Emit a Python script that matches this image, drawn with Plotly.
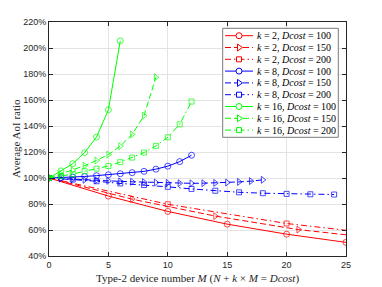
import plotly.graph_objects as go

# ---------------- data ----------------
x_k2_d100 = [0, 5, 10, 15, 20, 25]
y_k2_d100 = [100, 86.1, 74.3, 64.5, 56.8, 50.5]
mk_k2_d100 = [0, 5, 10, 15, 20, 25]

x_k2_d150 = [0, 7, 14, 21, 25]
y_k2_d150 = [100, 83.7, 70.7, 60.3, 56.3]
mk_k2_d150 = [0, 7, 14, 21]

x_k2_d200 = [0, 10, 20, 25]
y_k2_d200 = [100, 79.8, 65.0, 59.8]
mk_k2_d200 = [0, 10, 20]

x_k8_d100 = list(range(0, 13))
y_k8_d100 = [100, 100.3, 100.7, 101.2, 101.8, 102.5, 103.3, 104.1, 105.1, 106.8, 109.1, 112.6, 117.5]
mk_k8_d100 = x_k8_d100

x_k8_d150 = list(range(0, 19))
y_k8_d150 = [100, 99.5, 99.0, 98.6, 98.2, 97.8, 97.4, 97.1, 96.8, 96.5, 96.2, 96.0, 95.9,
             96.0, 96.2, 96.5, 97.0, 97.6, 98.6]
mk_k8_d150 = x_k8_d150

x_k8_d200 = [0, 2, 4, 6, 8, 10, 12, 14, 16, 18, 20, 22, 24]
y_k8_d200 = [100, 98.8, 97.5, 95.8, 94.6, 93.2, 91.6, 90.2, 89.0, 88.3, 87.8, 87.5, 87.3]
mk_k8_d200 = x_k8_d200

x_k16_d100 = [0, 1, 2, 3, 4, 5, 6]
y_k16_d100 = [100, 105.5, 111.0, 119.5, 131.5, 152.5, 205.5]
mk_k16_d100 = x_k16_d100

x_k16_d150 = [0, 1, 2, 3, 4, 5, 6, 7, 8, 9]
y_k16_d150 = [100, 103.0, 106.0, 109.5, 113.5, 118.0, 124.5, 133.5, 148.0, 177.5]
mk_k16_d150 = x_k16_d150

x_k16_d200 = [0, 1, 2, 3, 4, 5, 6, 7, 8, 9, 10, 11, 12]
y_k16_d200 = [100, 101.5, 103.0, 105.2, 107.2, 109.2, 112.2, 115.7, 119.6, 124.7, 131.3, 141.3, 158.8]
mk_k16_d200 = x_k16_d200

series_labels = [
    "<i>k</i> = 2, <i>Dcost</i> = 100",
    "<i>k</i> = 2, <i>Dcost</i> = 150",
    "<i>k</i> = 2, <i>Dcost</i> = 200",
    "<i>k</i> = 8, <i>Dcost</i> = 100",
    "<i>k</i> = 8, <i>Dcost</i> = 150",
    "<i>k</i> = 8, <i>Dcost</i> = 200",
    "<i>k</i> = 16, <i>Dcost</i> = 100",
    "<i>k</i> = 16, <i>Dcost</i> = 150",
    "<i>k</i> = 16, <i>Dcost</i> = 200",
]

x_tickvals = [0, 5, 10, 15, 20, 25]
y_tickvals = [40, 60, 80, 100, 120, 140, 160, 180, 200, 220]
y_ticktext = ["40%", "60%", "80%", "100%", "120%", "140%", "160%", "180%", "200%", "220%"]

x_title = "Type-2 device number <i>M</i> (<i>N</i> + <i>k</i> × <i>M</i> = <i>Dcost</i>)"
y_title = "Average AoI ratio"

# ---------------- styles ----------------
W, H = 382, 287
L, R, T, B = 49, 36, 22, 31
PW, PH = W - L - R, H - T - B

RED, BLUE, GREEN = "#ff0000", "#0000ff", "#00ff00"
DASH = "6px,3px"
DASHDOT = "6px,3px,1.5px,3px"
SANS = "Liberation Sans, Arial, sans-serif"
SERIF = "Liberation Serif, Times New Roman, serif"
AXC = "#262626"

series = [
    (x_k2_d100, y_k2_d100, mk_k2_d100, RED, "solid", "circle"),
    (x_k2_d150, y_k2_d150, mk_k2_d150, RED, DASH, "triangle-right"),
    (x_k2_d200, y_k2_d200, mk_k2_d200, RED, DASHDOT, "square"),
    (x_k8_d100, y_k8_d100, mk_k8_d100, BLUE, "solid", "circle"),
    (x_k8_d150, y_k8_d150, mk_k8_d150, BLUE, DASH, "triangle-right"),
    (x_k8_d200, y_k8_d200, mk_k8_d200, BLUE, DASHDOT, "square"),
    (x_k16_d100, y_k16_d100, mk_k16_d100, GREEN, "solid", "circle"),
    (x_k16_d150, y_k16_d150, mk_k16_d150, GREEN, DASH, "triangle-right"),
    (x_k16_d200, y_k16_d200, mk_k16_d200, GREEN, DASHDOT, "square"),
]
SYM_SIZE = {"circle": 6, "triangle-right": 6, "square": 5}

fig = go.Figure()
for (xs, ys, mk, col, dash, sym), lab in zip(series, series_labels):
    sizes = [SYM_SIZE[sym] if xv in mk else 0 for xv in xs]
    fig.add_trace(go.Scatter(
        x=xs, y=ys, mode="lines+markers", name=lab, showlegend=False,
        line=dict(color=col, width=1, dash=dash),
        marker=dict(symbol=sym + "-open", size=sizes, color=col, line=dict(width=1, color=col)),
        hoverinfo="skip",
    ))


def px2x(px):
    return (px - L) / PW


def py2y(py):
    return 1 - (py - T) / PH


shapes = []
annotations = []
# legend box
shapes.append(dict(type="rect", xref="paper", yref="paper", layer="above",
                   x0=px2x(222.7), x1=px2x(338.3), y0=py2y(137.3), y1=py2y(28.3),
                   fillcolor="white", line=dict(color="#7a7a7a", width=1)))
for i, ((xs, ys, mk, col, dash, sym), lab) in enumerate(zip(series, series_labels)):
    yy = py2y(35.7 + 11.8 * i)
    shapes.append(dict(type="line", xref="paper", yref="paper", layer="above",
                       x0=px2x(225), x1=px2x(253), y0=yy, y1=yy,
                       line=dict(color=col, width=1, dash=dash)))
    cx = px2x(239)
    if sym == "circle":
        shapes.append(dict(type="circle", xref="paper", yref="paper", layer="above",
                           xsizemode="pixel", ysizemode="pixel", xanchor=cx, yanchor=yy,
                           x0=-3, x1=3, y0=-3, y1=3, fillcolor="white",
                           line=dict(color=col, width=1)))
    elif sym == "square":
        shapes.append(dict(type="rect", xref="paper", yref="paper", layer="above",
                           xsizemode="pixel", ysizemode="pixel", xanchor=cx, yanchor=yy,
                           x0=-2.5, x1=2.5, y0=-2.5, y1=2.5, fillcolor="white",
                           line=dict(color=col, width=1)))
    else:
        shapes.append(dict(type="path", xref="paper", yref="paper", layer="above",
                           xsizemode="pixel", ysizemode="pixel", xanchor=cx, yanchor=yy,
                           path="M-1.5,-3.5 L3.5,0 L-1.5,3.5 Z", fillcolor="white",
                           line=dict(color=col, width=1)))
    annotations.append(dict(xref="paper", yref="paper", x=px2x(255), y=yy,
                            xanchor="left", yanchor="middle", showarrow=False, text=lab,
                            font=dict(family=SERIF, size=10, color="black")))

annotations.append(dict(xref="paper", yref="paper", x=0.5, y=py2y(278.5),
                        xanchor="center", yanchor="middle", showarrow=False, text=x_title,
                        font=dict(family=SERIF, size=11, color=AXC)))
annotations.append(dict(xref="paper", yref="paper", x=px2x(16), y=py2y(139),
                        xanchor="center", yanchor="middle", showarrow=False, text=y_title,
                        textangle=-90, font=dict(family=SERIF, size=11, color=AXC)))

axis_common = dict(showline=True, linecolor=AXC, linewidth=1, mirror="ticks",
                   ticks="inside", ticklen=4, tickcolor=AXC, tickwidth=1,
                   showgrid=True, gridcolor="#e3e3e3", gridwidth=1, zeroline=False,
                   tickfont=dict(family=SANS, size=9, color=AXC))

fig.update_layout(
    width=W, height=H, margin=dict(l=L, r=R, t=T, b=B, pad=0),
    paper_bgcolor="white", plot_bgcolor="white",
    showlegend=False,
    xaxis=dict(range=[0, 25], tickmode="array", tickvals=x_tickvals, **axis_common),
    yaxis=dict(range=[40, 220], tickmode="array", tickvals=y_tickvals, ticktext=y_ticktext,
               **axis_common),
    shapes=shapes, annotations=annotations,
)

fig.write_html("out.html",
               config={"displayModeBar": False, "staticPlot": True},
               post_script="document.body.style.margin='0px';document.body.style.overflow='hidden';")
